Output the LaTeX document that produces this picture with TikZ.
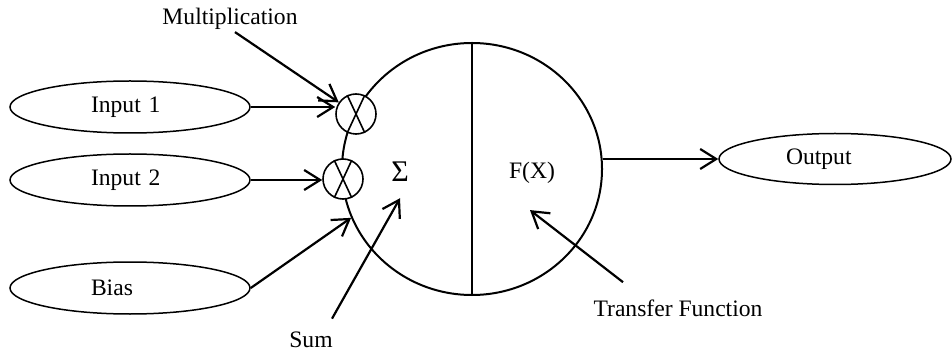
\documentclass[tikz,border=0pt]{standalone}
\usepackage{fontspec}
\setmainfont{Liberation Serif}
\usetikzlibrary{shapes.geometric, arrows.meta}

\begin{document}
\begin{tikzpicture}[x=0.5pt, y=-0.5pt, font=\fontsize{11.8pt}{14pt}\selectfont,
    inp/.style={ellipse, draw, line width=0.75pt, minimum width=120pt, minimum height=26pt,
                text width=39pt, align=left, inner sep=1pt},
    mult/.style={circle, draw, fill=white, line width=0.8pt, minimum size=20pt, inner sep=0pt},
    lbl/.style={inner sep=1pt},
    arr/.style={-{Straight Barb[length=8pt, width=10pt]}, line width=1.1pt}]
  \useasboundingbox (0,0) rectangle (952,352);
  % neuron body
  \node[ellipse, draw, line width=1pt, minimum width=130pt, minimum height=126pt] (neuron) at (472,169) {};
  \draw[line width=1pt] (neuron.north) -- (neuron.south);
  \node[mult] (m1) at (356,114) {};
  \node[mult] (m2) at (343,179) {};
  \foreach \m in {m1,m2}
    \draw[line width=0.8pt] (\m.115) -- (\m.-65) (\m.65) -- (\m.-115);
  \node[lbl, font=\fontsize{15pt}{17pt}\selectfont] (sigma) at (400,172) {Σ};
  \node[lbl] (fx) at (532,173) {F(X)};
  % inputs and output
  \node[inp] (in1) at (130,107) {Input 1};
  \node[inp] (in2) at (130,180) {Input 2};
  \node[inp] (bias) at (130,288) {Bias};
  \node[inp, text width=49pt, minimum width=116pt, minimum height=25.5pt] (out) at (835,159) {Output};
  % labels
  \node[lbl] (mult) at (230,19) {Multiplication};
  \node[lbl] (sum) at (311,340) {Sum};
  \node[lbl] (tf) at (678,308) {Transfer Function};
  \draw[arr] (in1.east) -- (in1.east -| m1.west);
  \draw[arr] (in2.east) -- (in2.east -| m2.west);
  \draw[arr] (bias.east) -- (neuron.202);
  \draw[arr] (neuron.east |- out.west) -- (out.west);
  \draw[arr] ([xshift=2.5pt]mult.south) -- (m1);
  \draw[arr] ([shift={(21,-11)}]sum.north) -- ([shift={(0,14)}]sigma.south);
  \draw[arr] ([shift={(-55,-15)}]tf.north) -- ([shift={(-2,24)}]fx.south);
\end{tikzpicture}
\end{document}
